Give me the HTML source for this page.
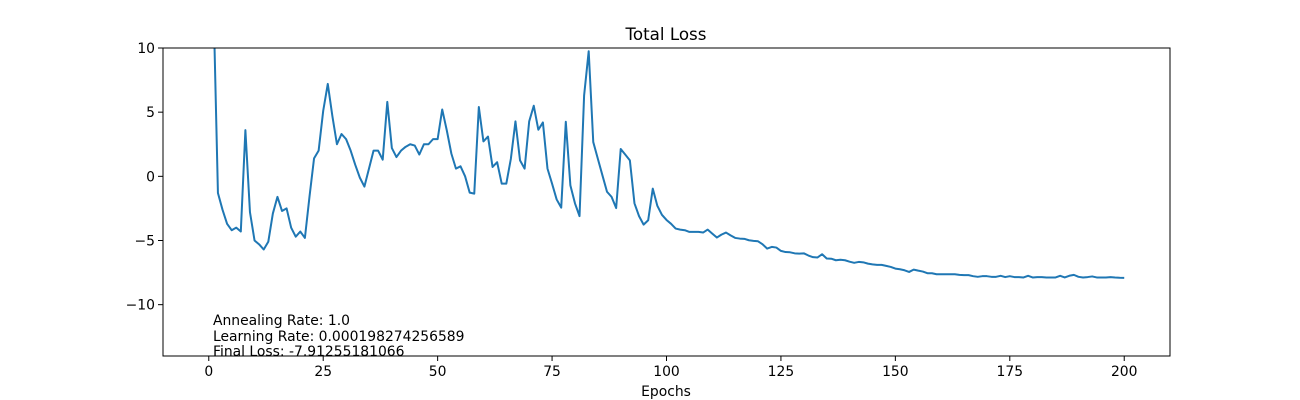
<!DOCTYPE html>
<html><head><meta charset="utf-8"><style>
body{margin:0;background:#fff;}
svg{display:block;font-family:"DejaVu Sans","Liberation Sans",sans-serif;}
</style></head><body>
<svg id="chart" width="1300" height="400">
<defs><clipPath id="clip"><rect x="163" y="48" width="1007" height="308"/></clipPath></defs>
<text x="666" y="40" font-size="16.7" text-anchor="middle">Total Loss</text>
<g id="ticks"></g>
<path id="line" clip-path="url(#clip)" fill="none" stroke="#1f77b4" stroke-width="2" stroke-linejoin="round"/>
<rect x="163" y="48" width="1007" height="308" fill="none" stroke="#000" stroke-width="1"/>
<text x="666" y="396" font-size="13.9" text-anchor="middle">Epochs</text>
<g font-size="13.9">
<text x="213" y="325">Annealing Rate: 1.0</text>
<text x="213" y="341">Learning Rate: 0.000198274256589</text>
<text x="213" y="356">Final Loss: -7.91255181066</text>
</g>
</svg>
<script>
const epochsStart = 1;
const lossValues = [14,-1.3,-2.6,-3.7,-4.2,-4.0,-4.3,3.6,-2.8,-5.0,-5.3,-5.7,-5.1,-2.9,-1.6,-2.7,-2.5,-4.0,-4.7,-4.3,-4.8,-1.6,1.4,2.0,5.1,7.2,4.7,2.5,3.3,2.9,2.0,0.9,-0.1,-0.8,0.6,2.0,2.0,1.3,5.8,2.2,1.5,2.0,2.3,2.5,2.4,
1.7,2.5,2.5,2.9,2.9,5.21,3.58,1.77,0.6,0.78,0,-1.27,-1.35,5.4,2.72,3.1,0.73,1.1,-0.57,-0.57,1.37,4.28,1.24,0.6,4.28,5.5,3.63,4.2,0.6,-0.57,-1.8,-2.44,4.25,-0.7,-2.1,-3.1,6.3,9.75,2.67,1.37,0.08,-1.2,-1.6,-2.47,2.13,1.69,1.24,-2.1,-3.1,-3.76,-3.42,-0.96,-2.3,-3.0,
-3.4,-3.7,-4.07,-4.15,-4.2,-4.33,-4.33,-4.33,-4.38,-4.15,-4.46,-4.77,-4.54,-4.38,-4.6,-4.8,-4.85,-4.87,-4.98,-5.03,-5.06,-5.3,-5.63,-5.5,-5.55,-5.81,-5.9,-5.92,-6.0,-6.02,-6.0,-6.17,-6.3,-6.32,-6.07,-6.4,-6.42,-6.54,-6.5,-6.54,-6.65,-6.74,-6.67,-6.7,-6.8,-6.86,-6.9,-6.9,-6.98,
-7.06,-7.19,-7.24,-7.32,-7.45,-7.27,-7.35,-7.42,-7.55,-7.55,-7.63,-7.63,-7.63,-7.63,-7.63,-7.68,-7.7,-7.7,-7.78,-7.83,-7.78,-7.78,-7.83,-7.83,-7.75,-7.85,-7.78,-7.85,-7.85,-7.88,-7.75,-7.88,-7.85,-7.85,-7.88,-7.88,-7.88,-7.75,-7.88,-7.75,-7.68,-7.83,-7.88,-7.85,-7.8,-7.88,-7.88,-7.88,-7.85,-7.88,-7.9,-7.91];
const xTicks = [0,25,50,75,100,125,150,175,200];
const yTicks = [-10,-5,0,5,10];
const L=163,R=1170,T=48,B=356, xmin=-10,xmax=210,ymin=-14,ymax=10;
const sx=v=>L+(v-xmin)/(xmax-xmin)*(R-L);
const sy=v=>B-(v-ymin)/(ymax-ymin)*(B-T);
const ns='http://www.w3.org/2000/svg';
const g=document.getElementById('ticks');
function mk(tag,attrs,txt){const e=document.createElementNS(ns,tag);for(const k in attrs)e.setAttribute(k,attrs[k]);if(txt!==undefined)e.textContent=txt;g.appendChild(e);return e;}
xTicks.forEach(t=>{const x=sx(t);
 const l=mk('line',{x1:x,x2:x,y1:B,y2:B+5,stroke:'#000'});
 
 
 const s=mk('text',{x:x,y:B+20,'font-size':13.9,'text-anchor':'middle'},String(t));
 
 
});
yTicks.forEach(t=>{const y=sy(t);
 const l=mk('line',{x1:L-5,x2:L,y1:y,y2:y,stroke:'#000'});
 
 
 const s=mk('text',{x:L-8,y:y+5,'font-size':13.9,'text-anchor':'end'},String(t).replace('-','\u2212'));
 
 
});
document.getElementById('line').setAttribute('d',lossValues.map((v,i)=>(i?'L':'M')+sx(epochsStart+i).toFixed(2)+','+sy(v).toFixed(2)).join(''));
</script>
</body></html>
